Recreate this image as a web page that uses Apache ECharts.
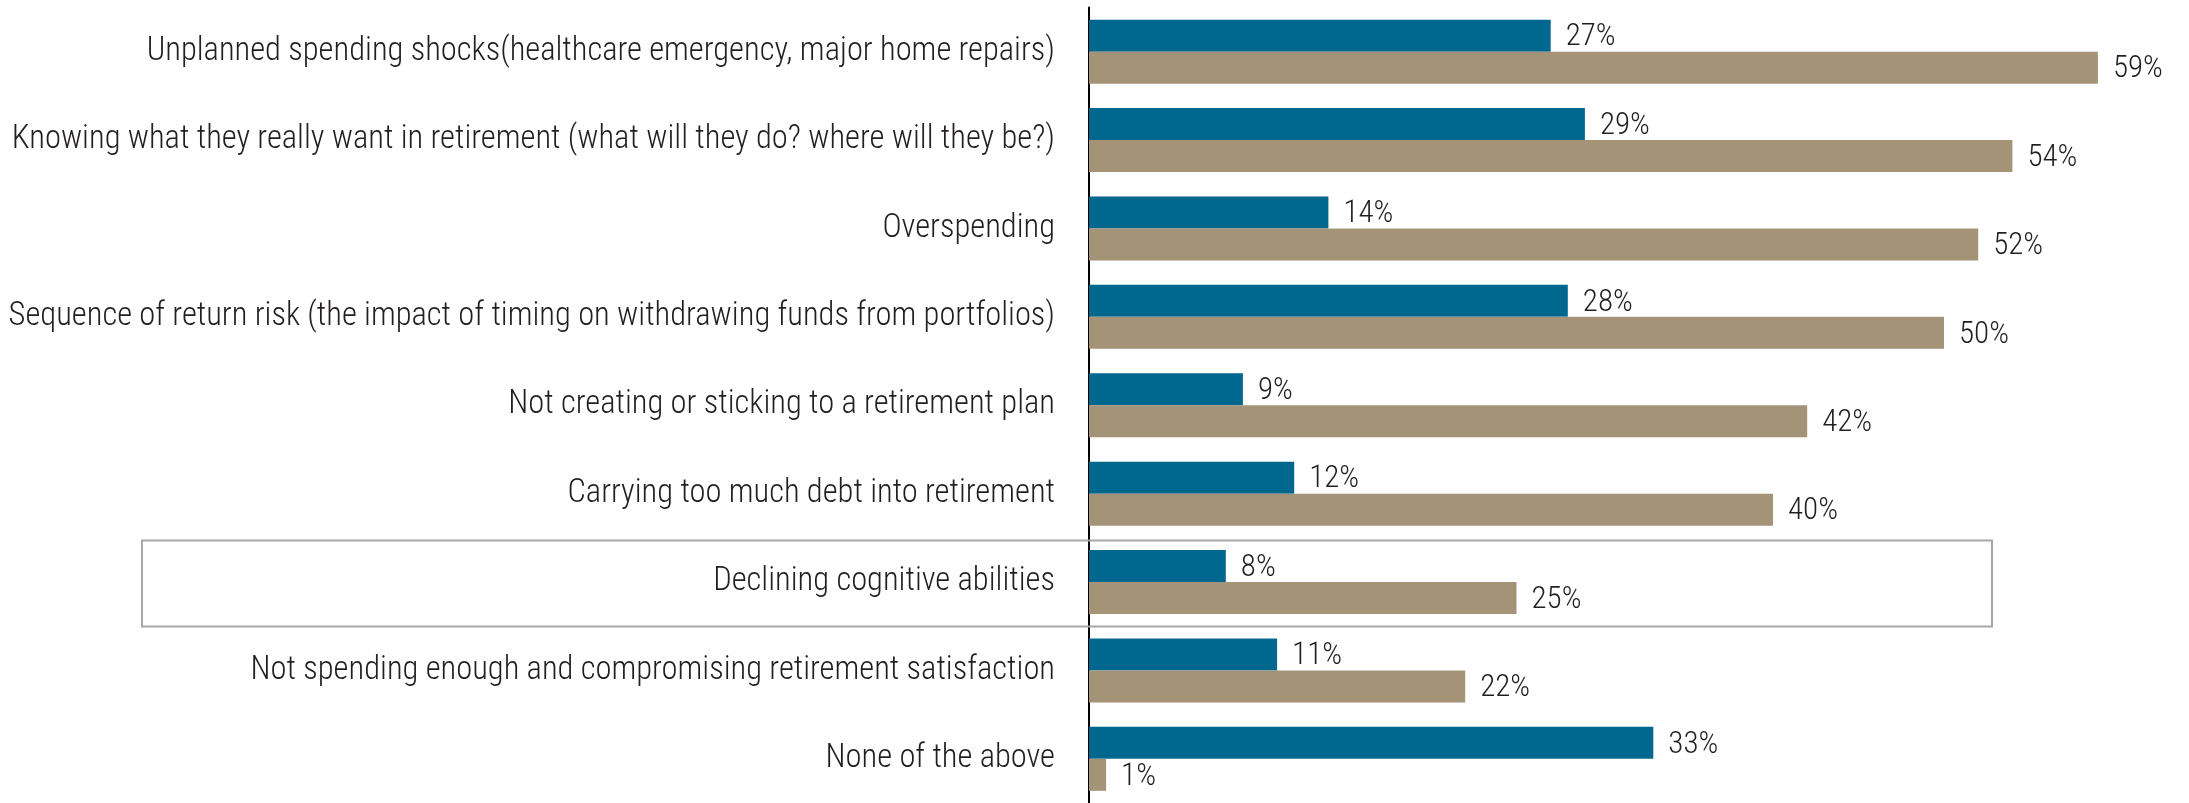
<!DOCTYPE html>
<html>
<head>
<meta charset="utf-8">
<script src="https://cdn.jsdelivr.net/npm/echarts@6/dist/echarts.min.js"></script>
<style>
  html, body { margin: 0; padding: 0; background: #fff; }
  #chart { width: 2189px; height: 803px; }
</style>
</head>
<body>
<div id="chart"></div>
<script>
// categories, top to bottom
const categories = [
  "Unplanned spending shocks(healthcare emergency, major home repairs)",
  "Knowing what they really want in retirement (what will they do? where will they be?)",
  "Overspending",
  "Sequence of return risk (the impact of timing on withdrawing funds from portfolios)",
  "Not creating or sticking to a retirement plan",
  "Carrying too much debt into retirement",
  "Declining cognitive abilities",
  "Not spending enough and compromising retirement satisfaction",
  "None of the above"
];
const blueValues = [27, 29, 14, 28, 9, 12, 8, 11, 33];
const tanValues = [59, 54, 52, 50, 42, 40, 25, 22, 1];
const highlighted = "Declining cognitive abilities";

const FONT = "'Roboto Condensed', 'Liberation Sans Narrow', 'DejaVu Sans Condensed', sans-serif";
const GRID_H = 801;

let myChart = echarts.init(document.getElementById("chart"));

function valueLabel() {
  return {
    show: true,
    position: "right",
    distance: 15,
    offset: [0, 2],
    color: "#231f20",
    fontFamily: FONT,
    fontWeight: 300,
    fontSize: 31,
    formatter: "{c}%"
  };
}

let option = {
  animation: false,
  grid: {
    left: 1089,
    top: 7.5,
    width: 1026,
    height: GRID_H,
    containLabel: false
  },
  xAxis: {
    type: "value",
    min: 0,
    max: 60,
    show: false
  },
  yAxis: {
    type: "category",
    inverse: true,
    data: categories,
    axisLine: { show: true, lineStyle: { color: "#000", width: 2 } },
    axisTick: { show: false },
    axisLabel: {
      margin: 34,
      color: "#231f20",
      fontFamily: FONT,
      fontWeight: 300,
      fontSize: 32.5
    }
  },
  series: [
    {
      name: "blue",
      type: "bar",
      data: blueValues,
      barWidth: 32,
      barGap: "0%",
      itemStyle: { color: "#00678f" },
      label: valueLabel()
    },
    {
      name: "tan",
      type: "bar",
      data: tanValues,
      barWidth: 32,
      barGap: "0%",
      itemStyle: { color: "#a59378" },
      label: valueLabel()
    }
  ]
};
myChart.setOption(option);

// outline box around the highlighted row, placed from the category axis
let idx = categories.indexOf(highlighted);
let yCenter = myChart.convertToPixel({ yAxisIndex: 0 }, idx);
myChart.setOption({
  graphic: [{
    type: "rect",
    shape: { x: 142, y: yCenter - 41.5, width: 1850, height: 86 },
    style: { fill: "none", stroke: "#a6a6a6", lineWidth: 2 },
    z: 10
  }]
});
</script>
</body>
</html>
